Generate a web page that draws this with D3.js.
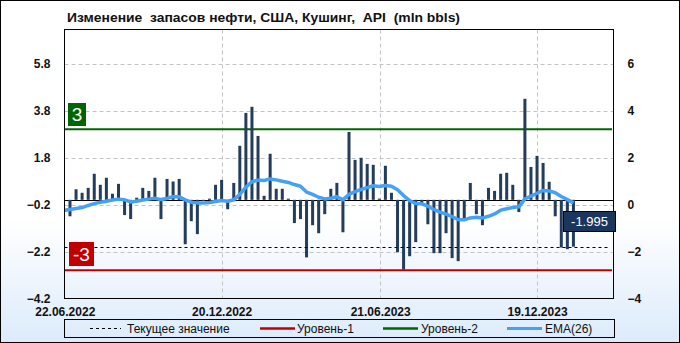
<!DOCTYPE html>
<html><head><meta charset="utf-8">
<script src="https://cdn.jsdelivr.net/npm/d3@7"></script>
<style>
body{margin:0;background:#fff}
svg{display:block}
text{font-family:'Liberation Sans',Arial,sans-serif}
</style>
</head><body>
<svg id="c" width="680" height="343"></svg>
<script>
// ---- data ----
const title = "Изменение  запасов нефти, США, Кушинг,  API  (mln bbls)";
const firstBarDate = "2022-06-28";       // weekly bars
const values = [
 -0.70, 0.45, 0.30, 0.51, 1.11, 0.64, 0.94, 0.26, 0.68,-0.65,
 -0.82, 0.09, 0.51, 0.38, 0.94,-0.82, 0.89, 0.78, 0.89,-1.89,
 -0.91,-1.46,-0.05, 0.05, 0.64, 0.85,-0.40, 0.72, 2.30, 3.70,
  3.96, 2.72, 0.17, 1.96, 0.47, 0.47, 0.05,-0.99,-0.82,-2.45,
 -1.08,-1.42,-0.61, 0.47, 0.72,-1.38, 2.89, 1.70, 1.79, 1.53,
  1.49, 0.05, 1.45, 0.30,-2.23,-2.97,-2.40,-1.80,-0.15,-1.04,
 -2.27,-2.27,-1.42,-2.48,-2.61,-0.80, 0.72,-0.61,-1.08, 0.51,
  0.38, 1.11, 1.15, 0.64,-0.52, 4.30, 1.40, 1.87, 1.57, 0.77,
 -0.70,-2.03,-2.10,-1.995
];
// EMA(26); first value is one week before the first bar
const ema = [
 -0.45,
 -0.41,-0.37,-0.33,-0.24,-0.16,-0.10,-0.06,-0.01, 0.03, 0.00,
 -0.09,-0.06,-0.01, 0.03, 0.07, 0.01, 0.06, 0.14, 0.13, 0.00,
 -0.10,-0.13,-0.13,-0.11,-0.07,-0.03,-0.06, 0.00, 0.23, 0.54,
  0.77, 0.84, 0.82, 0.89, 0.85, 0.79, 0.74, 0.65, 0.58, 0.33,
  0.23, 0.11, 0.04, 0.07, 0.13, 0.00, 0.23, 0.35, 0.44, 0.52,
  0.60, 0.57, 0.61, 0.58, 0.43, 0.18,-0.03,-0.16,-0.17,-0.27,
 -0.41,-0.52,-0.61,-0.71,-0.85,-0.85,-0.77,-0.74,-0.77,-0.70,
 -0.60,-0.44,-0.38,-0.33,-0.30, 0.04, 0.16, 0.28, 0.40, 0.38,
  0.30, 0.14, 0.01,-0.13
];
const leftTicks = [-4.2,-2.2,-0.2,1.8,3.8,5.8];
const rightTicks = [-4,-2,0,2,4,6];
const dateTicks = ["2022-06-22","2022-12-20","2023-06-21","2023-12-19"];
const level1 = -3, level2 = 3, current = -1.995;
const legendItems = [
  {label:"Текущее значение", type:"current"},
  {label:"Уровень-1", type:"l1"},
  {label:"Уровень-2", type:"l2"},
  {label:"EMA(26)", type:"ema"}
];

// ---- layout ----
const W=680,H=343;
const P={l:64.5,r:613.5,t:29.5,b:298.5};
const svg=d3.select("#c");
const parse=d3.utcParse("%Y-%m-%d");
const d0=parse(firstBarDate);
const barDates=values.map((v,i)=>d3.utcDay.offset(d0,7*i));
const emaDates=ema.map((v,i)=>d3.utcDay.offset(d0,7*(i-1)));

const x=d3.scaleUtc()
  .domain([new Date(Date.UTC(2022,5,21,16)), new Date(Date.UTC(2024,2,16,6))])
  .range([P.l,P.r]);
const y=d3.scaleLinear().domain([-4.2,7.25]).range([P.b,P.t]);
const yR=d3.scaleLinear().domain([-4,7.45]).range([P.b,P.t]);

// background gradient
const defs=svg.append("defs");
const g=defs.append("linearGradient").attr("id","bg").attr("x1",0).attr("y1",0).attr("x2",0).attr("y2",1);
g.append("stop").attr("offset","0.64").attr("stop-color","#ffffff");
g.append("stop").attr("offset","1").attr("stop-color","#dcebfb");
defs.append("clipPath").attr("id","clip").append("rect")
  .attr("x",P.l).attr("y",P.t).attr("width",P.r-P.l).attr("height",P.b-P.t);

svg.append("rect").attr("x",0.5).attr("y",0.5).attr("width",W-1).attr("height",H-1)
  .attr("fill","url(#bg)").attr("stroke","#000");

// title
svg.append("text").attr("x",67).attr("y",22)
  .attr("font-size",13).attr("font-weight","bold").attr("fill","#111")
  .style("white-space","pre")
  .attr("textLength",393).attr("lengthAdjust","spacingAndGlyphs")
  .text(title);

// grid
const grid=svg.append("g").attr("clip-path","url(#clip)");
grid.selectAll(".hg").data(leftTicks).join("line")
  .attr("x1",P.l).attr("x2",P.r)
  .attr("y1",d=>Math.round(y(d))+0.5).attr("y2",d=>Math.round(y(d))+0.5)
  .attr("stroke","#c4c4c4").attr("stroke-dasharray","4,3");
grid.selectAll(".vg").data(dateTicks.slice(1)).join("line")
  .attr("x1",d=>Math.round(x(parse(d)))+0.5).attr("x2",d=>Math.round(x(parse(d)))+0.5)
  .attr("y1",P.t).attr("y2",P.b)
  .attr("stroke","#c4c4c4").attr("stroke-dasharray","4,3");

// level lines
const plot=svg.append("g").attr("clip-path","url(#clip)");
plot.append("line").attr("x1",P.l).attr("x2",P.r-1.5)
  .attr("y1",y(level2)).attr("y2",y(level2)).attr("stroke","#006400").attr("stroke-width",2);
plot.append("line").attr("x1",P.l).attr("x2",P.r-1.5)
  .attr("y1",y(level1)).attr("y2",y(level1)).attr("stroke","#c00000").attr("stroke-width",2);
// zero line
plot.append("line").attr("x1",P.l).attr("x2",P.r)
  .attr("y1",Math.round(y(0))+0.5).attr("y2",Math.round(y(0))+0.5).attr("stroke","#000");

// bars
plot.selectAll(".bar").data(values).join("rect")
  .attr("x",(d,i)=>x(barDates[i])-1.5).attr("width",3)
  .attr("y",d=>y(Math.max(0,d))).attr("height",d=>Math.abs(y(d)-y(0)))
  .attr("fill","#243d5c");

// current value dashed line
plot.append("line").attr("x1",P.l).attr("x2",P.r-5)
  .attr("y1",Math.round(y(current))+0.5).attr("y2",Math.round(y(current))+0.5)
  .attr("stroke","#000").attr("stroke-dasharray","3,3");

// EMA
plot.append("path").datum(ema)
  .attr("d",d3.line().x((d,i)=>x(emaDates[i])).y(d=>y(d)))
  .attr("fill","none").attr("stroke","#45a1f6").attr("stroke-width",3.5)
  .attr("stroke-linejoin","round");

// frame
svg.append("rect").attr("x",P.l).attr("y",P.t).attr("width",P.r-P.l).attr("height",P.b-P.t)
  .attr("fill","none").attr("stroke","#000");

// axes
const axL=svg.append("g").attr("transform",`translate(${P.l-11},0)`)
  .call(d3.axisLeft(y).tickValues(leftTicks).tickSize(0).tickFormat(d3.format(".1f")));
const axR=svg.append("g").attr("transform",`translate(${P.r+11},0)`)
  .call(d3.axisRight(yR).tickValues(rightTicks).tickSize(0).tickFormat(d3.format("d")));
const axB=svg.append("g").attr("transform",`translate(0,${P.b+6})`)
  .call(d3.axisBottom(x).tickValues(dateTicks.map(parse)).tickSize(0).tickFormat(d3.utcFormat("%d.%m.%Y")));
[axL,axR,axB].forEach(a=>{
  a.select(".domain").remove();
  a.selectAll("text").attr("font-family","'Liberation Sans',Arial,sans-serif")
    .attr("font-size",12).attr("font-weight","bold").attr("fill","#111");
});

// level tags
function tag(xl,yt,w,h,fill,txt,fs){
  svg.append("rect").attr("x",xl).attr("y",yt).attr("width",w).attr("height",h).attr("fill",fill);
  svg.append("text").attr("x",xl+w/2).attr("y",yt+h/2).attr("dy","0.36em")
    .attr("text-anchor","middle").attr("fill","#fff").attr("font-size",fs)
    .attr("font-family","'Liberation Serif','Times New Roman',serif").text(txt);
}
tag(68,103,18,23,"#006400",String(level2),19);
tag(69,242,25,24,"#c00000",String(level1),19);

// current value tag
svg.append("rect").attr("x",563.5).attr("y",211.5).attr("width",52).attr("height",20)
  .attr("fill","#1b365d").attr("stroke","#000");
svg.append("text").attr("x",589.5).attr("y",221.5).attr("dy","0.36em")
  .attr("text-anchor","middle").attr("fill","#fff").attr("font-size",13)
  .attr("font-family","'DejaVu Sans',sans-serif").text(String(current));

// legend
const lg=svg.append("g");
lg.append("rect").attr("x",64.5).attr("y",319.5).attr("width",550).attr("height",18)
  .attr("fill","none").attr("stroke","#000");
const lx=[{l:90,r:121,t:127},{l:260,r:295,t:297},{l:383,r:418,t:421},{l:507,r:542,t:545}];
const ly=328.5;
legendItems.forEach((it,i)=>{
  const p=lx[i];
  const ln=lg.append("line").attr("x1",p.l).attr("x2",p.r).attr("y1",ly).attr("y2",ly);
  if(it.type==="current") ln.attr("stroke","#000").attr("stroke-dasharray","3,3");
  if(it.type==="l1") ln.attr("stroke","#c00000").attr("stroke-width",2.5);
  if(it.type==="l2") ln.attr("stroke","#006400").attr("stroke-width",2.5);
  if(it.type==="ema") ln.attr("stroke","#45a1f6").attr("stroke-width",3);
  lg.append("text").attr("x",p.t).attr("y",ly).attr("dy","0.35em")
    .attr("font-size",12).attr("fill","#111").text(it.label);
});
</script>
</body></html>
